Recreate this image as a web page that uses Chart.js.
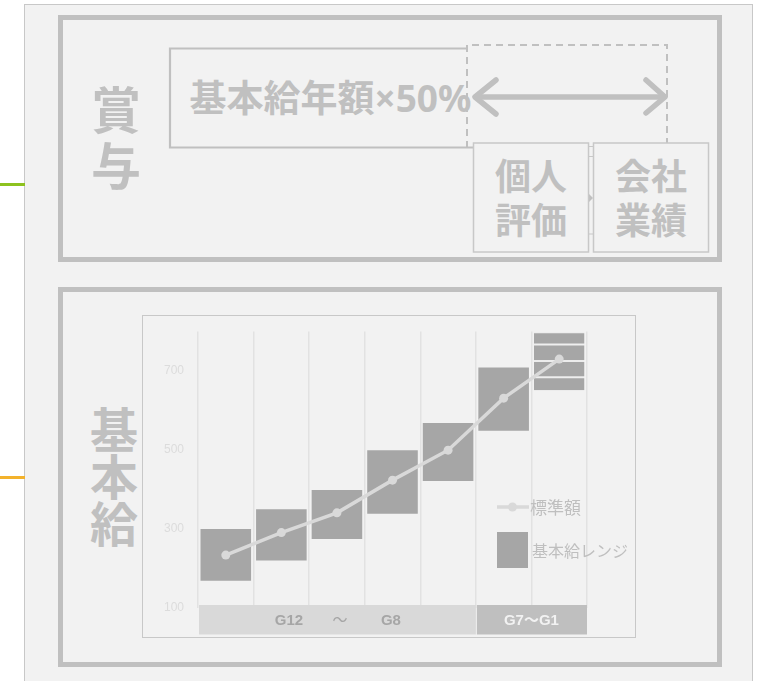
<!DOCTYPE html>
<html><head><meta charset="utf-8">
<script src="https://cdn.jsdelivr.net/npm/chart.js@4/dist/chart.umd.min.js"></script>
<style>
html,body{margin:0;padding:0}
body{width:761px;height:681px;position:relative;overflow:hidden;background:#fff;font-family:"Noto Sans CJK JP","Noto Sans",sans-serif}
.abs{position:absolute}
#panel{left:24px;top:4px;width:729px;height:720px;background:#f2f2f2;border:1.5px solid #c8c8c8;box-sizing:border-box}
.box{border:5px solid #c0c0c0;box-sizing:border-box}
.gt{color:#c0c0c0;font-weight:700;text-align:center;white-space:nowrap}
.lg{color:#bfbfbf;font-weight:400;white-space:nowrap}
.lat{font-family:"Noto Sans","Liberation Sans",sans-serif}
</style></head><body>
<div class="abs" id="panel"></div>
<div class="abs" style="left:0;top:182.5px;width:25px;height:3px;background:#8dc21f"></div>
<div class="abs" style="left:0;top:475.5px;width:25px;height:3px;background:#f3b22c"></div>
<div class="abs box" style="left:58px;top:15px;width:664px;height:247px"></div>
<div class="abs box" style="left:58px;top:287px;width:664px;height:380px"></div>
<svg class="abs" style="left:0;top:0" width="761" height="681">
  <path d="M467,48.5 H170 V147.5 H473" fill="none" stroke="#c0c0c0" stroke-width="2.2"/>
  <path d="M467,148 V45 H667 V148" fill="none" stroke="#c0c0c0" stroke-width="2" stroke-dasharray="7 5"/>
  <path d="M477,97 H662" stroke="#c0c0c0" stroke-width="5.5" stroke-linecap="round"/>
  <path d="M496,80 L475,97 L496,114" fill="none" stroke="#c0c0c0" stroke-width="5.5" stroke-linecap="round" stroke-linejoin="round"/>
  <path d="M646,80 L665,97 L646,113" fill="none" stroke="#c0c0c0" stroke-width="5.5" stroke-linecap="round" stroke-linejoin="round"/>
  <path d="M588.5,146.5 H593.5 M588.5,156.5 H593.5 M588.5,234 H593.5" stroke="#c8c8c8" stroke-width="1"/>
  <path d="M589,194 L593,198 L589,202 Z" fill="#c0c0c0"/>
  <rect x="473.5" y="143" width="115" height="109" fill="#f2f2f2" stroke="#c8c8c8" stroke-width="1.5"/>
  <rect x="593.5" y="143" width="115" height="109" fill="#f2f2f2" stroke="#c8c8c8" stroke-width="1.5"/>
</svg>
<div class="abs gt" style="left:90px;top:79px;width:52px;font-size:50px;line-height:56px">賞<br>与</div>
<div class="abs gt" style="left:189.5px;top:78px;font-size:37px;line-height:37px;text-align:left">基本給年額<span class="lat">×50%</span></div>
<div class="abs gt" style="left:473.5px;top:151.5px;width:115px;font-size:36px;line-height:44px">個人<br>評価</div>
<div class="abs gt" style="left:593.5px;top:151.5px;width:115px;font-size:36px;line-height:44px">会社<br>業績</div>
<div class="abs gt" style="left:88px;top:404px;width:52px;font-size:48px;line-height:47px">基<br>本<br>給</div>
<div class="abs" style="left:142px;top:315px;width:494px;height:323px;border:1.5px solid #c8c8c8;box-sizing:border-box;background:#f2f2f2"></div>
<div class="abs" style="left:144px;top:317px;width:490px;height:319px"><canvas id="c"></canvas></div>
<div id="legend"></div>
<script>
// ---- data ----
const categories = ['1', '2', '3', '4', '5', '6', '7'];
const seriesNames = ['標準額', '基本給レンジ'];
const standard = [233, 290, 340, 423, 499, 631, 730];
const rangeLow = [168, 219, 274, 338, 421, 548, null];
const rangeHigh = [299, 349, 398, 499, 568, 709, null];
const topColumnSegments = [649, 684, 725, 767, 798];
const yTicks = [100, 300, 500, 700];
const bandLabels = [['G12', '～', 'G8'], ['G7～G1']];
const bandSpans = [5, 2];

// ---- styles ----
const lineColor = '#d9d9d9';
const barColor = '#a6a6a6';
const bandFills = ['#d9d9d9', '#bfbfbf'];
const bandText = ['#a6a6a6', '#f2f2f2'];
const latin = '"Liberation Sans", Arial, "Noto Sans CJK JP", sans-serif';

const segCol = rangeLow.findIndex(v => v === null);
const datasets = [
  { type: 'line', label: seriesNames[0], data: standard, borderColor: lineColor, backgroundColor: lineColor,
    borderWidth: 3.5, pointRadius: 4.5, pointHoverRadius: 4.5, pointBorderWidth: 0, pointBackgroundColor: lineColor, tension: 0 },
  { type: 'bar', label: seriesNames[1], data: rangeLow.map((lo, i) => lo === null ? null : [lo, rangeHigh[i]]),
    backgroundColor: barColor, grouped: false, barPercentage: 0.91, categoryPercentage: 1 }
];
for (let k = 0; k < topColumnSegments.length - 1; k++) {
  datasets.push({ type: 'bar', label: seriesNames[1] + (k + 1),
    data: categories.map((_, i) => i === segCol ? [topColumnSegments[k], topColumnSegments[k + 1]] : null),
    backgroundColor: barColor, borderColor: '#ececec', borderWidth: { top: 1, bottom: 1, left: 0, right: 0 },
    borderSkipped: false, grouped: false, barPercentage: 0.91, categoryPercentage: 1 });
}

const bandPlugin = {
  id: 'band',
  afterDraw(chart) {
    const { ctx, chartArea, scales: { x } } = chart;
    const w = (x.right - x.left) / categories.length;
    const top = chartArea.bottom - 2.5, h = 29.5;
    let start = 0;
    ctx.save();
    bandLabels.forEach((parts, bi) => {
      const x0 = x.left + start * w, x1 = x.left + (start + bandSpans[bi]) * w;
      ctx.fillStyle = bandFills[bi];
      ctx.fillRect(x0 + 1, top, x1 - x0 - 1, h);
      const mid = (x0 + x1) / 2;
      ctx.textAlign = 'center'; ctx.textBaseline = 'middle';
      ctx.fillStyle = bandText[bi];
      parts.forEach((p, pi) => {
        const cx = parts.length > 1 ? mid + 3 + (pi - (parts.length - 1) / 2) * 51 : mid;
        ctx.font = (p === '～' ? '400 15px ' : 'bold 15px ') + latin;
        ctx.fillText(p, cx, top + 16);
      });
      start += bandSpans[bi];
    });
    ctx.restore();
  }
};

new Chart(document.getElementById('c'), {
  type: 'bar',
  data: { labels: categories, datasets },
  options: {
    responsive: true, maintainAspectRatio: false, animation: false, devicePixelRatio: 1,
    layout: { padding: { top: 14.5, right: 47, bottom: 0, left: 0 } },
    plugins: { legend: { display: false }, tooltip: { enabled: false } },
    scales: {
      x: { offset: true, grid: { display: true, offset: true, color: '#e2e2e2', lineWidth: 1.5, drawTicks: false },
           border: { display: false }, ticks: { display: false },
           afterFit: s => { s.height = 28.5; s.paddingLeft = 0; s.paddingRight = 0; } },
      y: { min: 100, max: 800, afterBuildTicks: s => { s.ticks = yTicks.map(v => ({ value: v })); },
           ticks: { color: '#dcdcdc', padding: 14, font: { size: 12, family: latin } },
           grid: { display: false, drawTicks: false }, border: { display: false },
           afterFit: s => { s.width = 54; s.paddingTop = 0; s.paddingBottom = 0; } }
    }
  },
  plugins: [bandPlugin]
});

// legend (HTML)
document.getElementById('legend').innerHTML =
  '<svg class="abs" style="left:496px;top:500px" width="34" height="14"><path d="M1,7 H33" stroke="' + lineColor + '" stroke-width="3.5"/><circle cx="16.5" cy="7" r="4.5" fill="' + lineColor + '"/></svg>' +
  '<div class="abs lg" style="left:530px;top:494px;font-size:17px;line-height:26px">' + seriesNames[0] + '</div>' +
  '<div class="abs" style="left:497px;top:532px;width:31px;height:36px;background:' + barColor + '"></div>' +
  '<div class="abs lg" style="left:532px;top:537px;font-size:16px;line-height:26px">' + seriesNames[1] + '</div>';
</script>
</body></html>
